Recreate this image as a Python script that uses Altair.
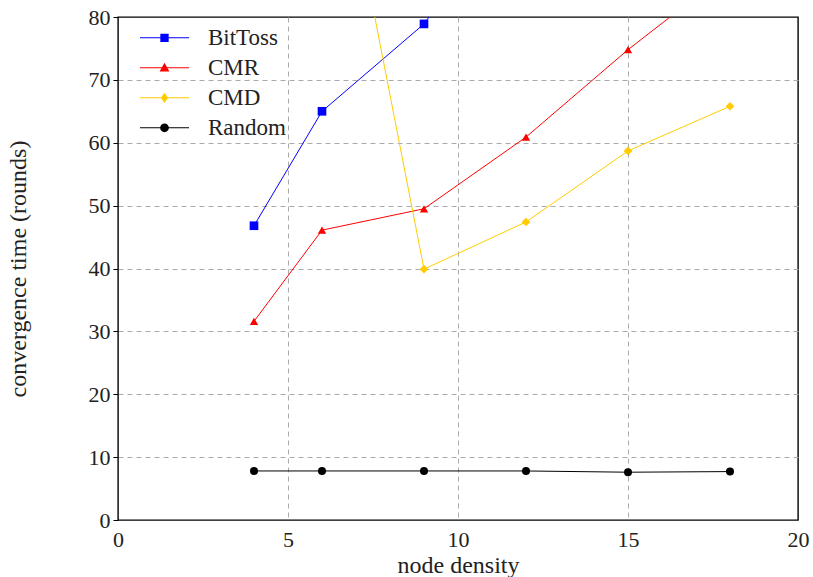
import altair as alt
import pandas as pd

# Convergence time per protocol as node density grows
density = [4, 6, 9, 12, 15, 18]
bittoss = [46.8, 65.0, 78.9, 101.0, None, None]
cmr = [31.6, 46.1, 49.5, 60.9, 74.8, 87.4]
cmd = [None, 123.0, 39.9, 47.4, 58.7, 65.8]
rand = [7.8, 7.8, 7.8, 7.8, 7.6, 7.7]

series_names = ["BitToss", "CMR", "CMD", "Random"]
series_values = [bittoss, cmr, cmd, rand]
series_colors = ["#0000ff", "#ff0000", "#ffcc00", "#000000"]
series_shapes = ["square", "triangle-up", "diamond", "circle"]
series_sizes = [75, 70, 75, 64]

rows = []
for name, vals in zip(series_names, series_values):
    for x, y in zip(density, vals):
        if y is not None:
            rows.append({"density": x, "time": y, "series": name})
df = pd.DataFrame(rows)

FONT = "Liberation Serif"

# legend glyphs: a thin bar (the line) with the series marker in the middle
BAR = "M-1,-0.022H1V0.022H-1Z"
legend_glyphs = [
    BAR + "M-0.17,-0.17H0.17V0.17H-0.17Z",
    BAR + "M0,-0.21L0.2,0.15H-0.2Z",
    BAR + "M0,-0.21L0.15,0L0,0.21L-0.15,0Z",
    BAR + "M0.18,0A0.18,0.18 0 1,1 -0.18,0A0.18,0.18 0 1,1 0.18,0Z",
]

x = alt.X(
    "density:Q",
    title="node density",
    scale=alt.Scale(domain=[0, 20]),
    axis=alt.Axis(
        values=[0, 5, 10, 15, 20],
        ticks=False,
        labelFlush=False,
        labelPadding=9,
        titlePadding=3,
        gridOpacity={"condition": {"test": "datum.value === 0 || datum.value === 20", "value": 0}, "value": 1},
    ),
)
y = alt.Y(
    "time:Q",
    title="convergence time (rounds)",
    scale=alt.Scale(domain=[0, 80]),
    axis=alt.Axis(
        values=[0, 10, 20, 30, 40, 50, 60, 70, 80],
        tickSize=5,
        labelFlush=False,
        labelPadding=3,
        titlePadding=58,
        gridOpacity={"condition": {"test": "datum.value === 0 || datum.value === 80", "value": 0}, "value": 1},
    ),
)

base = alt.Chart(df)

# one line and one set of markers per series
series_layers = []
for name, col, shape, size in zip(series_names, series_colors, series_shapes, series_sizes):
    sub = base.transform_filter(alt.datum.series == name)
    series_layers.append(
        sub.mark_line(strokeWidth=1, clip=True, color=col).encode(x=x, y=y)
    )
    series_layers.append(
        sub.mark_point(filled=True, opacity=1, size=size, clip=True, shape=shape, color=col).encode(x=x, y=y)
    )

legend_props = dict(
    title=None,
    orient="none",
    legendX=21,
    legendY=6,
    symbolSize=2401,
    clipHeight=29.6,
    rowPadding=0,
    labelOffset=18,
    labelFont=FONT,
    labelFontSize=23,
    labelColor="#222222",
    padding=0,
)

# legend entries only; nothing of this layer is drawn in the plot
legend_layer = (
    base.transform_filter("false")
    .mark_point(filled=True, opacity=1)
    .encode(
        x=x,
        y=y,
        color=alt.Color(
            "series:N",
            scale=alt.Scale(domain=series_names, range=series_colors),
            legend=alt.Legend(**legend_props),
        ),
        shape=alt.Shape(
            "series:N",
            scale=alt.Scale(domain=series_names, range=legend_glyphs),
            legend=alt.Legend(**legend_props),
        ),
    )
)

chart = (
    alt.layer(*series_layers, legend_layer)
    .properties(
        width=680,
        height=503,
        autosize=alt.AutoSizeParams(type="none"),
        padding={"left": 118, "top": 17, "right": 15, "bottom": 57},
    )
    .configure(font=FONT)
    .configure_view(stroke="#000000", strokeWidth=1.4)
    .configure_legend(labelFont=FONT, labelFontSize=23, labelColor="#222222")
    .configure_axis(
        labelFont=FONT,
        titleFont=FONT,
        labelFontSize=22,
        titleFontSize=24,
        titleFontWeight="normal",
        labelColor="#222222",
        titleColor="#222222",
        domain=False,
        tickColor="#000000",
        gridColor="#aaaaaa",
        gridDash=[5, 4],
        gridWidth=1,
    )
)

chart.save("out.html", embed_options={"renderer": "svg", "actions": False})
